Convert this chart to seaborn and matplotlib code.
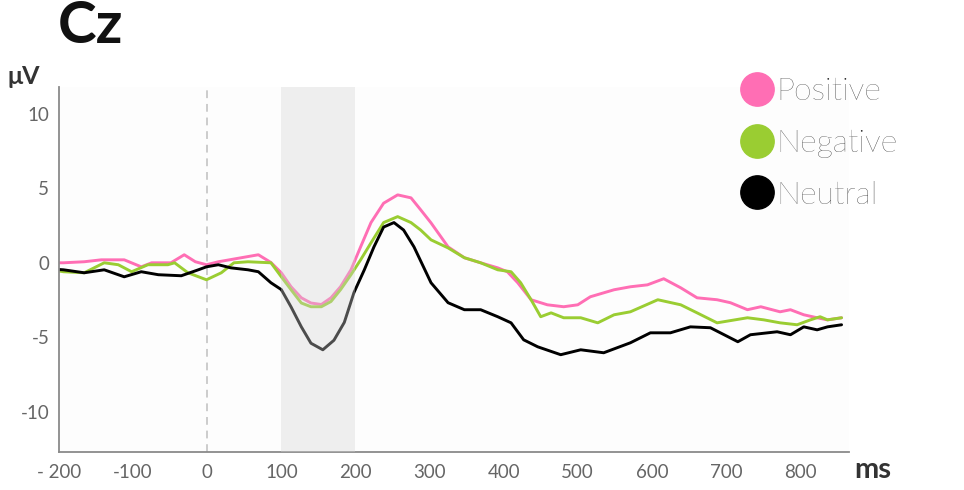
import numpy as np
import pandas as pd
import matplotlib
matplotlib.use("Agg")
import matplotlib.pyplot as plt
from matplotlib.lines import Line2D
import seaborn as sns

# ---------------- data ----------------
conditions = ["Positive", "Negative", "Neutral"]
colors = ["#ff6eb4", "#9acd32", "#000000"]

positive_t = [-200, -194, -166, -143, -112, -89, -75, -49, -31, -16, -1, 15, 46, 69, 86,
              100, 113, 127, 140, 154, 167, 180, 194, 207, 221, 238, 257, 275, 288,
              302, 325, 347, 369, 392, 405, 419, 437, 459, 481, 500, 517, 549, 571,
              594, 616, 639, 661, 688, 706, 729, 747, 773, 787, 805, 823, 837, 856]
positive_v = [0.0, 0.0, 0.07, 0.2, 0.2, -0.27, 0.0, 0.0, 0.54, 0.07, -0.13, 0.07, 0.34, 0.54, 0.02,
              -0.67, -1.6, -2.35, -2.7, -2.8, -2.35, -1.6, -0.47, 1.07, 2.7, 4.0, 4.56, 4.36, 3.56,
              2.68, 1.07, 0.34, 0.0, -0.34, -0.6, -1.34, -2.48, -2.82, -2.95, -2.82, -2.28, -1.81, -1.61,
              -1.48, -1.07, -1.68, -2.35, -2.48, -2.68, -3.15, -2.95, -3.29, -3.15, -3.49, -3.69, -3.83, -3.69]

negative_t = [-200, -194, -166, -139, -120, -102, -80, -53, -44, -26, -1, 19, 36, 55, 86,
              100, 113, 127, 140, 154, 167, 180, 194, 207, 221, 238, 257, 275, 288,
              302, 325, 347, 369, 392, 410, 423, 437, 450, 464, 481, 504, 527, 549, 571,
              608, 639, 661, 688, 729, 751, 773, 796, 814, 827, 837, 856]
negative_v = [-0.55, -0.6, -0.67, 0.0, -0.13, -0.6, -0.13, -0.13, 0.0, -0.67, -1.14, -0.67, 0.0, 0.07, 0.0,
              -0.94, -1.8, -2.7, -2.95, -2.95, -2.6, -1.8, -0.8, 0.2, 1.34, 2.7, 3.1, 2.7, 2.2,
              1.54, 1.0, 0.34, 0.0, -0.47, -0.6, -1.34, -2.48, -3.62, -3.36, -3.69, -3.69, -4.03, -3.49, -3.29,
              -2.48, -2.82, -3.36, -4.03, -3.69, -3.83, -4.03, -4.16, -3.83, -3.62, -3.83, -3.69]

neutral_t = [-200, -194, -166, -139, -112, -89, -66, -35, -12, -1, 15, 32, 55, 69,
             86, 100, 113, 127, 140, 156, 171, 185, 198, 212, 225, 238, 252, 265, 279,
             302, 325, 347, 369, 392, 410, 427, 446, 477, 504, 535, 571, 598, 625, 652,
             679, 716, 733, 769, 787, 805, 823, 837, 856]
neutral_v = [-0.45, -0.47, -0.67, -0.47, -0.94, -0.6, -0.8, -0.87, -0.47, -0.27, -0.13, -0.34, -0.47, -0.6,
             -1.34, -1.8, -2.95, -4.3, -5.4, -5.84, -5.2, -4.0, -2.0, -0.47, 1.07, 2.4, 2.7, 2.2, 1.07,
             -1.34, -2.68, -3.15, -3.15, -3.62, -4.03, -5.17, -5.64, -6.17, -5.84, -6.04, -5.37, -4.7, -4.7, -4.3,
             -4.36, -5.3, -4.83, -4.63, -4.83, -4.3, -4.5, -4.3, -4.16]

x_ticks = [-200, -100, 0, 100, 200, 300, 400, 500, 600, 700, 800]
x_tick_labels = ["- 200", "-100", "0", "100", "200", "300", "400", "500", "600", "700", "800"]
y_ticks = [-10, -5, 0, 5, 10]
y_tick_labels = ["-10", "-5", "0", "5", "10"]
window = (100, 200)

# ---------------- build table ----------------
frames = []
for name, t, v in [("Positive", positive_t, positive_v),
                   ("Negative", negative_t, negative_v),
                   ("Neutral", neutral_t, neutral_v)]:
    frames.append(pd.DataFrame({"time": t, "amp": v, "condition": name}))
df = pd.concat(frames, ignore_index=True)

# ---------------- style ----------------
sns.set_style("white")
plt.rcParams["font.family"] = ["Lato", "DejaVu Sans"]

fig = plt.figure(figsize=(9.64, 4.9), dpi=100)
fig.patch.set_facecolor("white")
ax = fig.add_axes([0.0612, 0.0776, 0.8195, 0.7448])
ax.set_facecolor("#fdfdfd")

sns.lineplot(data=df, x="time", y="amp", hue="condition", hue_order=conditions,
             palette=dict(zip(conditions, colors)), estimator=None, sort=False,
             linewidth=2.1, legend=False, ax=ax, zorder=2)

ax.axvline(0, color="#cccccc", linestyle=(0, (4, 3)), linewidth=1.4, zorder=1)
ax.axvspan(window[0], window[1], color="#d4d4d4", alpha=0.36, linewidth=0, zorder=3)

ax.set_xlim(-200, 866)
ax.set_ylim(-12.7, 11.8)
ax.set_xticks(x_ticks)
ax.set_xticklabels(x_tick_labels)
ax.set_yticks(y_ticks)
ax.set_yticklabels(y_tick_labels)
ax.set_xlabel("")
ax.set_ylabel("")

for s in ["top", "right"]:
    ax.spines[s].set_visible(False)
for s in ["left", "bottom"]:
    ax.spines[s].set_color("#8a8a8a")
    ax.spines[s].set_linewidth(1.3)

ax.tick_params(axis="both", which="major", direction="out", length=4, width=1.3,
               color="#777777", labelcolor="#666666", labelsize=13.5, pad=5)
ax.tick_params(axis="y", pad=3)

# titles / unit labels
fig.text(0.060, 0.945, "Cz", fontsize=42, fontweight="bold", color="#111111",
         ha="left", va="center")
fig.text(0.008, 0.843, "μV", fontsize=18, fontweight="bold", color="#333333",
         ha="left", va="center")
fig.text(0.886, 0.041, "ms", fontsize=21, fontweight="bold", color="#333333",
         ha="left", va="center")

# legend
handles = [Line2D([0], [0], marker="o", linestyle="none", markersize=24,
                  markerfacecolor=c, markeredgecolor=c) for c in colors]
leg = fig.legend(handles, conditions, loc="upper left", bbox_to_anchor=(0.752, 0.875),
                 frameon=False, fontsize=23, handlelength=1.0, handletextpad=0.12,
                 labelspacing=0.71, borderpad=0)
for txt in leg.get_texts():
    txt.set_color("#222222")
    txt.set_fontweight("light")

fig.savefig("out.png", dpi=100)
